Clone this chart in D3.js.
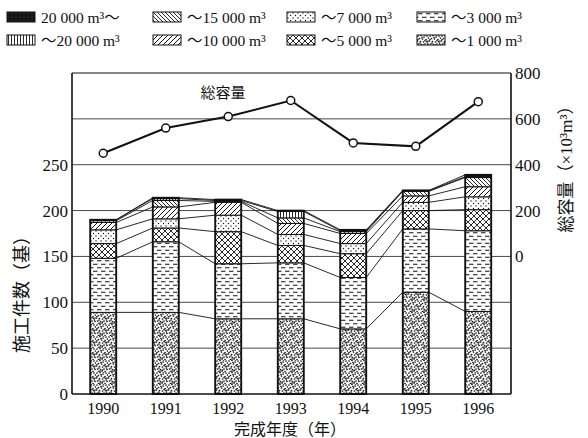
<!DOCTYPE html>
<html lang="ja">
<head>
<meta charset="UTF-8">
<title>施工件数と総容量</title>
<script src="https://d3js.org/d3.v7.min.js"></script>
<style>
  body { margin: 0; background: #fff; }
  svg text { font-family: "Liberation Serif", "Noto Sans CJK JP", serif; fill: #111; }
</style>
</head>
<body>
<svg id="chart" width="588" height="438"></svg>
<script>
// years and size classes (bottom to top of each bar)
const years = ["1990", "1991", "1992", "1993", "1994", "1995", "1996"];
const classKeys = ["c1000", "c3000", "c5000", "c7000", "c10000", "c15000", "c20000", "c20000plus"];

// number of works per class (基)
const c1000      = [89, 89, 82, 82, 71, 111, 90];
const c3000      = [59, 77, 60, 61, 56, 69, 88];
const c5000      = [16, 15, 35, 19, 26, 20, 23];
const c7000      = [15, 10, 18, 12, 11, 9, 14];
const c10000     = [8, 13, 14, 12, 11, 7, 11];
const c15000     = [2, 7, 1, 6, 2, 5, 10];
const c20000     = [1, 2, 1, 7, 1, 0.5, 1];
const c20000plus = [0, 1, 1, 1, 1, 0.5, 2];

// total capacity (×10^3 m3)
const totalVolume = [450, 560, 610, 680, 495, 480, 675];

const leftTicks = [0, 50, 100, 150, 200, 250];
const gridTicks = [50, 100, 150, 200, 250, 300];
const rightTicks = [0, 200, 400, 600, 800];

// legend, in reading order (row 1 then row 2)
const legendKeys = ["c20000plus", "c15000", "c7000", "c3000", "c20000", "c10000", "c5000", "c1000"];
const legendLabels = ["20 000 m³～", "～15 000 m³", "～7 000 m³", "～3 000 m³",
                      "～20 000 m³", "～10 000 m³", "～5 000 m³", "～1 000 m³"];

const series = { c1000, c3000, c5000, c7000, c10000, c15000, c20000, c20000plus };
const table = years.map((yr, i) => {
    const row = { year: yr };
    classKeys.forEach(k => row[k] = series[k][i]);
    return row;
});

const svg = d3.select("#chart");
const plotL = 72, plotR = 511, plotT = 73, plotB = 394;
const barW = 26;

const x = d3.scaleBand().domain(years).range([72, 509.5]);
const y = d3.scaleLinear().domain([0, 350]).range([plotB, plotT]);
const y2 = d3.scaleLinear().domain([-600, 800]).range([plotB, plotT]);
const cx = yr => x(yr) + x.bandwidth() / 2;

// ---- patterns ----
const defs = svg.append("defs");
function pattern(id, w, h) {
    const p = defs.append("pattern").attr("id", id)
        .attr("patternUnits", "userSpaceOnUse").attr("width", w).attr("height", h);
    p.append("rect").attr("width", w).attr("height", h).attr("fill", "#fff");
    return p;
}
// fine stipple
{
    const p = pattern("p-c1000", 12, 12);
    const pts = [[1,1],[4,0.5],[7,2],[10,1],[2.5,3.5],[5.5,4],[9,4.5],[11.5,3],[0.5,6],[3.5,6.5],
                 [6.5,7],[9.5,6.5],[1.5,9],[4.5,9.5],[8,9],[11,9.5],[2.5,11.5],[6,11],[9,11.5],
                 [5,2.5],[8,5.5],[3,8],[10.5,8],[6.5,10],[1,4.5],[11,6],[7.5,0],[4,11]];
    pts.forEach(d => p.append("circle").attr("cx", d[0]).attr("cy", d[1]).attr("r", 0.85).attr("fill", "#1a1a1a"));
}
// dashes
{
    const p = pattern("p-c3000", 8, 7);
    p.append("path").attr("d", "M1,1.8H5.5M5,5.3H9.5M-3,5.3H1.5").attr("stroke", "#111").attr("stroke-width", 1.1);
}
// cross hatch
{
    const p = pattern("p-c5000", 6, 6);
    p.append("path").attr("d", "M0,0L6,6M6,0L0,6").attr("stroke", "#111").attr("stroke-width", 0.9);
}
// sparse dots
{
    const p = pattern("p-c7000", 5, 5);
    [[1,1],[3.5,3.5]].forEach(d => p.append("circle").attr("cx", d[0]).attr("cy", d[1]).attr("r", 0.7).attr("fill", "#111"));
}
// diagonal /
{
    const p = pattern("p-c10000", 5, 5);
    p.append("path").attr("d", "M-1,6L6,-1M-1,1L1,-1M4,6L6,4").attr("stroke", "#111").attr("stroke-width", 1);
}
// diagonal \
{
    const p = pattern("p-c15000", 4, 4);
    p.append("path").attr("d", "M-1,-1L5,5M-1,3L1,5M3,-1L5,1").attr("stroke", "#111").attr("stroke-width", 0.9);
}
// vertical lines
{
    const p = pattern("p-c20000", 3, 3);
    p.append("line").attr("x1", 1.5).attr("x2", 1.5).attr("y1", 0).attr("y2", 3).attr("stroke", "#111").attr("stroke-width", 0.9);
}
// solid
{
    const p = pattern("p-c20000plus", 4, 4);
    p.select("rect").attr("fill", "#151515");
    p.append("circle").attr("cx", 1).attr("cy", 1).attr("r", 0.5).attr("fill", "#666");
}

// ---- grid ----
svg.append("g").selectAll("line").data(gridTicks).join("line")
    .attr("x1", plotL).attr("x2", plotR)
    .attr("y1", d => y(d)).attr("y2", d => y(d))
    .attr("stroke", "#333").attr("stroke-width", 0.9);

// ---- stacked bars ----
const stacked = d3.stack().keys(classKeys)(table);

const barG = svg.append("g");
stacked.forEach(layer => {
    barG.append("g").selectAll("rect").data(layer).join("rect")
        .attr("x", d => cx(d.data.year) - barW / 2)
        .attr("width", barW)
        .attr("y", d => y(d[1]))
        .attr("height", d => Math.max(0, y(d[0]) - y(d[1])))
        .attr("fill", `url(#p-${layer.key})`)
        .attr("stroke", "#111").attr("stroke-width", 1);
});
// bar outlines
barG.append("g").selectAll("rect").data(table).join("rect")
    .attr("x", d => cx(d.year) - barW / 2)
    .attr("width", barW)
    .attr("y", d => y(d3.sum(classKeys, k => d[k])))
    .attr("height", d => plotB - y(d3.sum(classKeys, k => d[k])))
    .attr("fill", "none").attr("stroke", "#111").attr("stroke-width", 1.8);

// connecting lines between layer boundaries
const linkG = svg.append("g").attr("stroke", "#111").attr("stroke-width", 0.9);
stacked.forEach(layer => {
    for (let i = 0; i < years.length - 1; i++) {
        linkG.append("line")
            .attr("x1", cx(years[i]) + barW / 2)
            .attr("y1", y(layer[i][1]))
            .attr("x2", cx(years[i + 1]) - barW / 2)
            .attr("y2", y(layer[i + 1][1]));
    }
});

// frame
const frame = svg.append("g").attr("stroke", "#111");
frame.append("line").attr("x1", plotL).attr("x2", plotR).attr("y1", plotT).attr("y2", plotT).attr("stroke-width", 1.2);
frame.append("line").attr("x1", plotL).attr("x2", plotR).attr("y1", plotB).attr("y2", plotB).attr("stroke-width", 1.6);
frame.append("line").attr("x1", plotL).attr("x2", plotL).attr("y1", plotT).attr("y2", plotB).attr("stroke-width", 1.6);
frame.append("line").attr("x1", plotR).attr("x2", plotR).attr("y1", plotT).attr("y2", plotB).attr("stroke-width", 1.6);

// ---- axis labels ----
svg.append("g").selectAll("text").data(leftTicks).join("text")
    .attr("x", plotL - 4).attr("y", d => y(d) + 6)
    .attr("text-anchor", "end").attr("font-size", 17)
    .text(d => d);

svg.append("g").selectAll("text").data(rightTicks).join("text")
    .attr("x", plotR + 4).attr("y", d => y2(d) + 6)
    .attr("font-size", 17)
    .text(d => d);

svg.append("g").selectAll("text").data(years).join("text")
    .attr("x", d => cx(d)).attr("y", 414)
    .attr("text-anchor", "middle").attr("font-size", 16)
    .text(d => d);

svg.append("text").attr("x", 290).attr("y", 435)
    .attr("text-anchor", "middle").attr("font-size", 16)
    .text("完成年度（年）");

svg.append("text").attr("transform", "translate(28,290) rotate(-90)")
    .attr("text-anchor", "middle").attr("font-size", 18)
    .text("施工件数（基）");

svg.append("text").attr("transform", "translate(572,165) rotate(-90)")
    .attr("text-anchor", "middle").attr("font-size", 17)
    .text("総容量（×10³m³）");

// ---- total capacity line ----
const line = d3.line()
    .x((d, i) => cx(years[i]))
    .y(d => y2(d));
svg.append("path").datum(totalVolume)
    .attr("d", line).attr("fill", "none")
    .attr("stroke", "#111").attr("stroke-width", 2);
svg.append("g").selectAll("circle").data(totalVolume).join("circle")
    .attr("cx", (d, i) => cx(years[i]))
    .attr("cy", d => y2(d))
    .attr("r", 4).attr("fill", "#fff")
    .attr("stroke", "#111").attr("stroke-width", 1.5);

svg.append("text").attr("x", 223).attr("y", 98)
    .attr("text-anchor", "middle").attr("font-size", 15)
    .text("総容量");

// ---- legend ----
const colX = [7, 153, 287, 417];
const rowY = [12, 35];
const legend = svg.append("g").selectAll("g").data(legendKeys).join("g")
    .attr("transform", (d, i) => `translate(${colX[i % 4]},${rowY[Math.floor(i / 4)]})`);
legend.append("rect").attr("width", 28).attr("height", 10)
    .attr("fill", d => `url(#p-${d})`).attr("stroke", "#111").attr("stroke-width", 1);
legend.append("text").attr("x", 34).attr("y", 10.5)
    .attr("font-size", 15.5)
    .text((d, i) => legendLabels[i]);
</script>
</body>
</html>
